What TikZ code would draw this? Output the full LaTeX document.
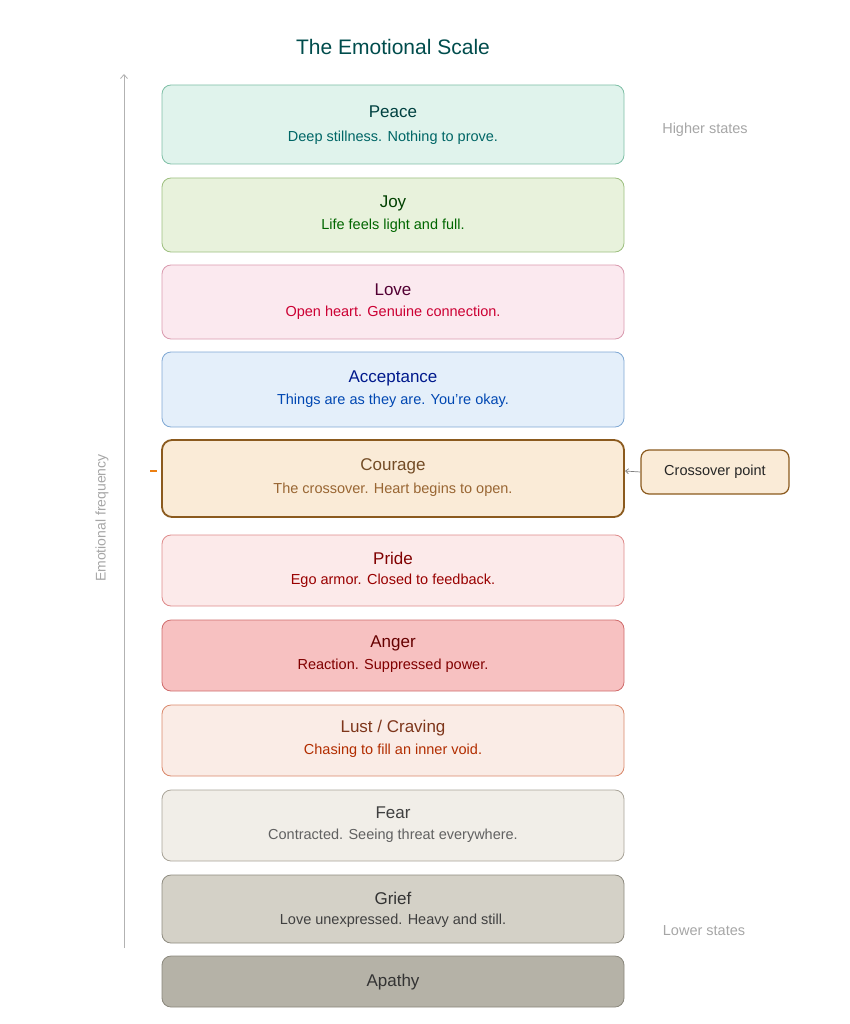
\documentclass[tikz,border=0pt]{standalone}
\usepackage{fontspec}
\setmainfont{Liberation Sans}
\usetikzlibrary{arrows.meta}
\begin{document}
\begin{tikzpicture}[x=1pt,y=-1pt,
  lvl/.style={draw=#1!70!black!60, rounded corners=9pt, line width=0.8pt, minimum width=462pt, anchor=north west, inner sep=0pt},
  nm/.style={font=\fontsize{17}{20}\selectfont},
  ds/.style={font=\fontsize{14.5}{17}\selectfont}]
\useasboundingbox (0,0) rectangle (849,1024);
\node[font=\fontsize{21}{24}\selectfont, text=teal!60!black] (title) at (393,47) {The Emotional Scale};
\def\lvl#1#2#3#4#5#6#7#8{% name, top, bottom, fill, border, titlecol, desccol, desc
  \filldraw[fill=#4, draw=#5, line width=0.8pt, rounded corners=9pt] (162,#2) rectangle (624,#3);
  \node[nm, text=#6] (#1n) at (393,{#2+(#3-#2)*0.36}) {#1};
  \node[ds, text=#7] (#1d) at (393,{#2+(#3-#2)*0.68}) {#8};}
\definecolor{pf}{HTML}{E0F3EC}\definecolor{pb}{HTML}{7FBFA6}
\filldraw[fill=pf, draw=pb, line width=0.8pt, rounded corners=9pt] (162,85) rectangle (624,164);
\node[nm, text=teal!50!black] (peace) at (393,112) {Peace};
\node[ds, text=teal!80!black] (peaced) at (393,138) {Deep stillness. Nothing to prove.};
\definecolor{jf}{HTML}{E8F2DC}\definecolor{jb}{HTML}{9DBF7F}
\filldraw[fill=jf, draw=jb, line width=0.8pt, rounded corners=9pt] (162,178) rectangle (624,252);
\node[nm, text=green!25!black] (joy) at (393,203) {Joy};
\node[ds, text=green!40!black] (joyd) at (393,226) {Life feels light and full.};
\definecolor{lf}{HTML}{FBE9EF}\definecolor{lb}{HTML}{D99AAE}
\filldraw[fill=lf, draw=lb, line width=0.8pt, rounded corners=9pt] (162,265) rectangle (624,339);
\node[nm, text=red!40!black!80!blue] (love) at (393,290) {Love};
\node[ds, text=purple!80!red] (loved) at (393,313) {Open heart. Genuine connection.};
\definecolor{af}{HTML}{E4EFFA}\definecolor{ab}{HTML}{7FA8D4}
\filldraw[fill=af, draw=ab, line width=0.8pt, rounded corners=9pt] (162,352) rectangle (624,427);
\node[nm, text=blue!50!black!90!cyan] (acc) at (393,378) {Acceptance};
\node[ds, text=blue!60!cyan!70!black] (accd) at (393,401) {Things are as they are. You're okay.};
\definecolor{cf}{HTML}{FAEBD7}\definecolor{cb}{HTML}{8B5A1E}
\filldraw[fill=cf, draw=cb, line width=1.8pt, rounded corners=10pt] (162,440) rectangle (624,517);
\node[nm, text=brown!60!black] (cour) at (393,466) {Courage};
\node[ds, text=brown!80!black] (courd) at (393,490) {The crossover. Heart begins to open.};
\definecolor{prf}{HTML}{FCEAEA}\definecolor{prb}{HTML}{DE8A8A}
\filldraw[fill=prf, draw=prb, line width=0.8pt, rounded corners=9pt] (162,535) rectangle (624,606);
\node[nm, text=red!50!black] (pride) at (393,558) {Pride};
\node[ds, text=red!60!black] (prided) at (393,581) {Ego armor. Closed to feedback.};
\definecolor{anf}{HTML}{F7C1C1}\definecolor{anb}{HTML}{CF6B6B}
\filldraw[fill=anf, draw=anb, line width=0.8pt, rounded corners=9pt] (162,620) rectangle (624,691);
\node[nm, text=red!40!black] (anger) at (393,643) {Anger};
\node[ds, text=red!50!black] (angerd) at (393,666) {Reaction. Suppressed power.};
\definecolor{luf}{HTML}{FAECE6}\definecolor{lub}{HTML}{D9876A}
\filldraw[fill=luf, draw=lub, line width=0.8pt, rounded corners=9pt] (162,705) rectangle (624,776);
\node[nm, text=red!30!brown!60!black] (lust) at (393,728) {Lust / Craving};
\node[ds, text=orange!50!red!70!black] (lustd) at (393,751) {Chasing to fill an inner void.};
\definecolor{ff}{HTML}{F1EEE8}\definecolor{fb}{HTML}{A8A398}
\filldraw[fill=ff, draw=fb, line width=0.8pt, rounded corners=9pt] (162,790) rectangle (624,861);
\node[nm, text=black!75] (fear) at (393,813) {Fear};
\node[ds, text=black!62] (feard) at (393,836) {Contracted. Seeing threat everywhere.};
\definecolor{gf}{HTML}{D4D1C7}\definecolor{gb}{HTML}{8E8B80}
\filldraw[fill=gf, draw=gb, line width=0.8pt, rounded corners=9pt] (162,875) rectangle (624,943);
\node[nm, text=black!80] (grief) at (393,898) {Grief};
\node[ds, text=black!75] (griefd) at (393,921) {Love unexpressed. Heavy and still.};
\definecolor{apf}{HTML}{B5B2A7}\definecolor{apb}{HTML}{8A877C}
\filldraw[fill=apf, draw=apb, line width=0.8pt, rounded corners=9pt] (162,956) rectangle (624,1007);
\node[nm, text=black!80] (apathy) at (393,982) {Apathy};
% axis
\coordinate (a0) at (124,948); \coordinate (a1) at (124,74);
\draw[black!30, line width=0.8pt, -{Straight Barb[length=4pt,width=7pt]}] (a0) -- (a1);
\node[rotate=90, text=black!35, font=\fontsize{14}{16}\selectfont] (axl) at (102,518) {Emotional frequency};
\draw[orange!70!brown, line width=1.5pt] (150,471) -- (157,471);
\node[text=black!35, font=\fontsize{14.5}{17}\selectfont] (hs) at (705,130) {Higher states};
\node[text=black!35, font=\fontsize{14.5}{17}\selectfont] (ls) at (704,931) {Lower states};
% crossover
\node[draw=cb, fill=cf, line width=1.2pt, rounded corners=8pt, minimum width=148pt, minimum height=44pt, font=\fontsize{14.5}{17}\selectfont, text=black!85] (xo) at (715,472) {Crossover point};
\coordinate (ce) at (625,471);
\draw[black!50, line width=0.7pt, -{Straight Barb[length=3pt,width=5pt]}] (xo.west) -- (ce);
\end{tikzpicture}
\end{document}
